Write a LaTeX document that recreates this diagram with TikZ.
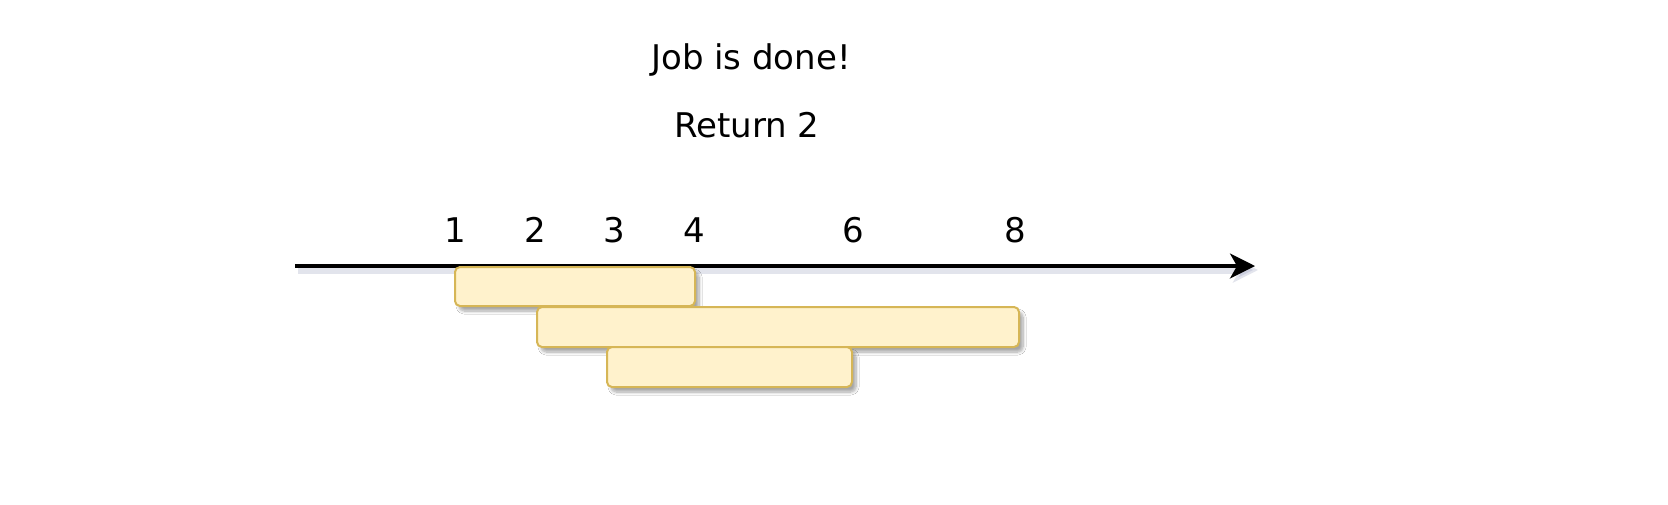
\documentclass[tikz,border=0pt]{standalone}
\usepackage{fontspec}
\setmainfont{DejaVu Sans}
\usetikzlibrary{arrows.meta,shadows.blur}
\definecolor{barfill}{HTML}{FFF2CC}
\definecolor{bardraw}{HTML}{D6B656}
\definecolor{shadowc}{HTML}{7F85AD}
\tikzset{
  bar/.style={draw=bardraw, fill=barfill, line width=2pt, rounded corners=5pt,
    inner sep=0pt, outer sep=0pt, anchor=north west,
    blur shadow={shadow xshift=4pt, shadow yshift=-5pt, shadow blur radius=3pt, shadow opacity=35, shadow blur steps=8}},
  axisline/.style={line width=3.5pt, -{Stealth[length=25pt,width=25pt,inset=7pt]},
    preaction={draw=shadowc, opacity=0.22, line width=8pt, transform canvas={shift={(3pt,-4pt)}}}},
  lbl/.style={font=\fontsize{34}{40}\selectfont, inner sep=0pt, text=black},
  ttl/.style={font=\fontsize{34}{40}\selectfont, inner sep=0pt, text=black}
}
\begin{document}
\begin{tikzpicture}[x=1pt,y=-1pt]
\useasboundingbox (0,0) rectangle (1668,504);
\fill[white] (0,0) rectangle (1668,504);
% title texts
\node[ttl] (t1) at (751,60) {Job is done!};
\node[ttl] (t2) at (747,125) {Return 2};
% axis
\coordinate (a0) at (295,266);
\coordinate (a1) at (1255,266);
\draw[axisline] (a0) -- (a1);
% tick labels
\node[lbl] (l1) at (455,230) {1};
\node[lbl] (l2) at (535,230) {2};
\node[lbl] (l3) at (614,230) {3};
\node[lbl] (l4) at (694,230) {4};
\node[lbl] (l6) at (853,230) {6};
\node[lbl] (l8) at (1015,230) {8};
% bars
\node[bar, minimum width=240pt, minimum height=39pt] (b1) at (455,267) {};
\node[bar, minimum width=482pt, minimum height=40pt] (b2) at (537,307) {};
\node[bar, minimum width=245pt, minimum height=40pt] (b3) at (607,347) {};
\end{tikzpicture}
\end{document}
